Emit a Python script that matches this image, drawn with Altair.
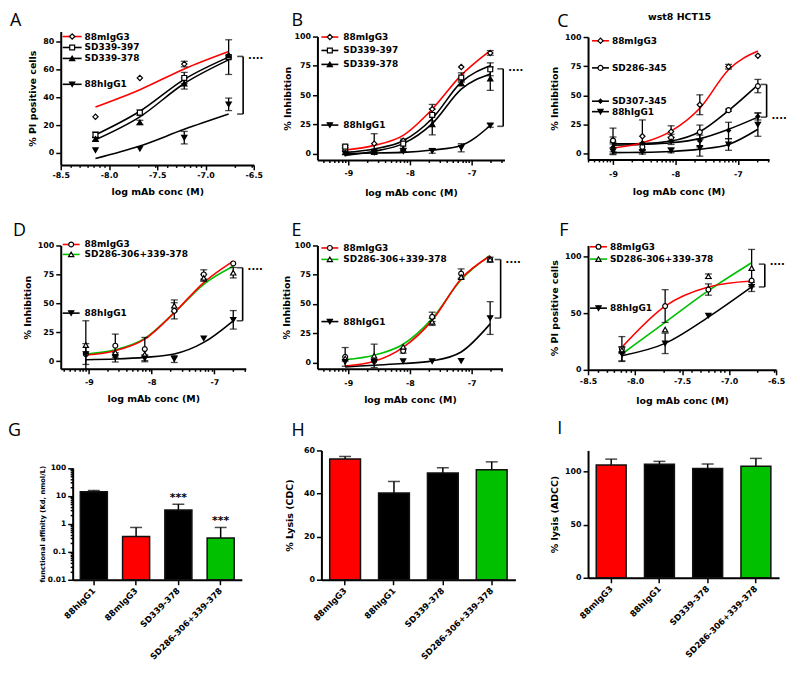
import math
import altair as alt
import pandas as pd

FONT = "DejaVu Sans"
LETTER_FONT = "Open Sans"
RED = "#ff0000"
GREEN = "#00c000"
BLACK = "#000000"
WHITE = "#ffffff"

M3 = "88mIgG3"
H1 = "88hIgG1"
S397 = "SD339-397"
S378 = "SD339-378"
S345 = "SD286-345"
S307 = "SD307-345"
SDC = "SD286-306+339-378"

# ---------------- Panel A (% PI positive cells) ----------------
A_X = [-8.14, -7.68, -7.22, -6.76]
A_M3 = [26, 54, 64, 70]
A_M3_ERR = [0, 0, 2, 0]
A_M3_FIT = [33, 45.5, 60.5, 73]
A_397 = [13, 29, 54, 69]
A_397_ERR = [2, 2, 4, 12.5]
A_397_FIT = [13, 30, 53, 69]
A_378 = [10, 22, 50, 70]
A_378_ERR = [1.5, 1.5, 4, 0]
A_378_FIT = [9.5, 26, 50, 67]
A_H1 = [2, 3, 11, 35]
A_H1_ERR = [0, 0, 4.5, 4.5]
A_H1_FIT = [-4, 5, 17, 28]
A_BRACKET = [-6.61, 28, 69.5, 67.5]

# ---------------- Panel B (% Inhibition) ----------------
B_X = [-9.05, -8.58, -8.11, -7.64, -7.17, -6.70]
B_M3 = [3, 8.5, 11, 38, 74, 86]
B_M3_ERR = [0, 8.5, 0, 4, 0, 2]
B_M3_FIT = [3, 7, 15.6, 38, 67, 88]
B_397 = [6, 1.5, 8.5, 33, 65, 72]
B_397_ERR = [1, 0, 4, 5, 4, 5.5]
B_397_FIT = [1, 4, 11, 30, 61, 75]
B_378 = [1, 1.5, 4, 25, 60, 64]
B_378_ERR = [0, 0, 0, 9, 2, 10]
B_378_FIT = [-1.5, 2, 8.5, 25.6, 55, 68]
B_H1 = [0, 1, 2, 2.3, 5, 24]
B_H1_ERR = [0, 0, 0, 2, 3.5, 1.5]
B_H1_FIT = [0, 0.5, 1, 3, 7, 24]
B_BRACKET = [-6.49, 23.3, 72.4, 70.4]

# ---------------- Panel C (wst8 HCT15) ----------------
C_X = [-9.0, -8.53, -8.07, -7.61, -7.15, -6.68]
C_M3 = [11, 15, 19, 42, 74.6, 84]
C_M3_ERR = [11, 14, 5, 8.5, 2, 0]
C_M3_FIT = [5, 9.4, 19.4, 39, 72, 88]
C_345 = [11.4, 6, 13.7, 18.6, 37.4, 58]
C_345_ERR = [3, 3, 3, 6, 1, 5.7]
C_345_FIT = [8.6, 8.7, 10.9, 18.9, 37, 59]
C_307 = [5.7, 9.4, 11, 11, 20, 32]
C_307_ERR = [4, 0, 3, 5, 7, 3]
C_307_FIT = [7.4, 8, 9.4, 13, 21, 31.4]
C_H1 = [2.3, 1.7, 2.9, 5, 8, 25]
C_H1_ERR = [3, 2, 2, 7, 5, 10]
C_H1_FIT = [1, 1.2, 2, 4, 8, 21]
C_BRACKET = [-6.54, 31.4, 59.4, 30]

# ---------------- Panel D ----------------
D_X = [-9.05, -8.58, -8.11, -7.64, -7.17, -6.70]
D_M3 = [6.3, 13.5, 10.6, 43.6, 75, 84.5]
D_M3_ERR = [0, 10, 10, 7, 4, 0]
D_M3_FIT = [5.4, 9.2, 19.2, 42, 68, 86.5]
D_SDC = [14, 7.7, 6, 48, 72, 76.5]
D_SDC_ERR = [21, 0, 0, 5, 3, 4.5]
D_SDC_FIT = [6.3, 10, 19.8, 42, 66.5, 82]
D_H1 = [6.3, 3.4, 2.6, 2, 19.8, 35.8]
D_H1_ERR = [9, 4, 3, 3, 0, 8]
D_H1_FIT = [1.4, 2, 3.4, 6.3, 16.3, 35]
D_BRACKET = [-6.55, 35, 80.8, 78.5]

# ---------------- Panel E ----------------
E_X = [-9.05, -8.58, -8.11, -7.64, -7.17, -6.70]
E_M3 = [4.8, 1.4, 10, 39, 76, 88]
E_M3_ERR = [8, 0, 2, 4, 4, 2]
E_M3_FIT = [-3, 1, 13, 36, 71.6, 91]
E_SDC = [3.4, 5.7, 13.4, 34.7, 73, 88]
E_SDC_ERR = [0, 10, 0, 3, 0, 0]
E_SDC_FIT = [2.5, 6.2, 15.6, 37.5, 70.7, 91.5]
E_H1 = [0.6, 0.6, 1.1, 1.1, 1.4, 38]
E_H1_ERR = [0, 0, 0, 0, 0, 14]
E_H1_FIT = [-3.7, -2.3, -0.9, 1.4, 9, 33]
E_BRACKET = [-6.53, 38, 88, 85]

# ---------------- Panel F (% PI positive cells) ----------------
F_X = [-8.14, -7.68, -7.22, -6.76]
F_M3 = [18.4, 56.4, 71, 79]
F_M3_ERR = [11, 14.5, 5, 0]
F_M3_FIT = [20, 56.4, 73.3, 78.6]
F_SDC = [17.5, 35.6, 82.8, 90]
F_SDC_ERR = [3, 0, 2, 16.5]
F_SDC_FIT = [14, 42, 70, 94.7]
F_H1 = [14, 23.4, 48, 73.3]
F_H1_ERR = [6, 9, 0, 4]
F_H1_FIT = [12.5, 23.4, 46.6, 73.3]
F_BRACKET = [-6.62, 73.3, 93.5, 92.6]

# ---------------- Bar panels ----------------
G_NAMES = [H1, M3, S378, SDC]
G_VALS = [14, 0.35, 3.1, 0.31]
G_ERR = [1.5, 0.39, 1.9, 0.43]
G_STARS = ["", "", "***", "***"]

H_NAMES = [M3, H1, S378, SDC]
H_VALS = [56, 40.2, 49.5, 51]
H_ERR = [1.2, 5.4, 2.5, 3.7]

I_NAMES = [M3, H1, S378, SDC]
I_VALS = [106.2, 106.9, 103, 105]
I_ERR = [5.6, 2.8, 4.2, 7.5]

BAR_COLOR = {M3: RED, H1: BLACK, S378: BLACK, SDC: GREEN}

# ---------------- helpers ----------------
ONE = pd.DataFrame({"k": [0]})
INT_TEST = "abs(datum.value - round(datum.value)) < 1e-6"
HALF_TEST = "abs(datum.value * 2 - round(datum.value * 2)) < 1e-6"
LINE_ORDER = {BLACK: 0, GREEN: 1, RED: 2}


def log_ticks(lo, hi, extra=()):
    vals = set()
    for d in range(math.floor(lo) - 1, math.ceil(hi) + 1):
        for k in range(1, 10):
            v = round(d + math.log10(k), 4)
            if lo - 1e-6 <= v <= hi + 1e-6:
                vals.add(v)
    for v in extra:
        if lo - 1e-6 <= v <= hi + 1e-6:
            vals.add(v)
    return sorted(vals)


def letter_layer(letter, dx, dy):
    return alt.Chart(ONE).mark_text(
        text=letter, align="left", baseline="top", font=LETTER_FONT,
        fontSize=18, color=BLACK
    ).encode(x=alt.value(dx), y=alt.value(dy))


def ser(name, xs, ys, errs, fit, shape, fill, line, size=28):
    return dict(name=name, x=xs, y=ys, err=errs, fit=fit, shape=shape,
                fill=fill, line=line, size=size)


def line_panel(letter, letter_xy, width, height, xdom, ydom, half, yvals,
               ytitle, ytp, xlp, xtp, series, legend, legend_x, bracket,
               title=None):
    test = HALF_TEST if half else INT_TEST
    fmt = ".1f" if half else "d"
    extra = [-8.5, -8.0, -7.5, -7.0, -6.5] if half else []
    xvals = log_ticks(xdom[0], xdom[1], extra)
    xs = alt.Scale(domain=xdom, nice=False, zero=False)
    ys = alt.Scale(domain=ydom, nice=False, zero=False)
    xaxis = alt.Axis(
        values=xvals,
        labelExpr=f"{test} ? replace(format(datum.value, '{fmt}'), '\u2212', '-') : ''",
        tickSize={"condition": {"test": test, "value": 5}, "value": 2.5},
        title="log mAb conc (M)", labelPadding=xlp, titlePadding=xtp)
    yaxis = alt.Axis(values=yvals, title=ytitle, titlePadding=ytp,
                     tickSize=5, labelPadding=2)

    def X(f):
        return alt.X(f, type="quantitative", scale=xs, axis=xaxis)

    def Y(f):
        return alt.Y(f, type="quantitative", scale=ys, axis=yaxis)

    layers = []
    for s in sorted(series, key=lambda s: LINE_ORDER[s["line"]]):
        df = pd.DataFrame({"x": s["x"], "y": s["fit"]})
        layers.append(alt.Chart(df).mark_line(
            interpolate="monotone", strokeWidth=1.6, color=s["line"]
        ).encode(x=X("x"), y=Y("y")))

    rows = []
    for s in series:
        for x, y, e in zip(s["x"], s["y"], s["err"]):
            if e > 0:
                rows.append({"x": x, "lo": y - e, "hi": y + e})
    if rows:
        edf = pd.DataFrame(rows)
        layers.append(alt.Chart(edf).mark_rule(strokeWidth=1.3, color=BLACK)
                      .encode(x=X("x"), y=Y("lo"), y2=alt.Y2("hi")))
        for f in ("lo", "hi"):
            layers.append(alt.Chart(edf).mark_tick(
                orient="horizontal", size=7, thickness=1.3, color=BLACK
            ).encode(x=X("x"), y=Y(f)))

    for s in series:
        df = pd.DataFrame({"x": s["x"], "y": s["y"]})
        layers.append(alt.Chart(df).mark_point(
            shape=s["shape"], filled=True, fill=s["fill"], stroke=BLACK,
            strokeWidth=1.2, size=s["size"], opacity=1
        ).encode(x=X("x"), y=Y("y")))

    # legend (GraphPad style, inside the plot)
    style = {s["name"]: s for s in series}
    x0, x1, tx = legend_x
    for name, ly in legend:
        s = style[name]
        layers.append(alt.Chart(ONE).mark_rule(strokeWidth=1.6, color=s["line"])
                      .encode(x=alt.value(x0), x2=alt.value(x1), y=alt.value(ly)))
        layers.append(alt.Chart(ONE).mark_point(
            shape=s["shape"], filled=True, fill=s["fill"], stroke=BLACK,
            strokeWidth=1.2, size=s["size"], opacity=1
        ).encode(x=alt.value((x0 + x1) / 2), y=alt.value(ly)))
        layers.append(alt.Chart(ONE).mark_text(
            text=name, align="left", baseline="middle", font=FONT,
            fontWeight="bold", fontSize=9, color=BLACK
        ).encode(x=alt.value(tx), y=alt.value(ly)))

    # significance bracket
    bdf = pd.DataFrame({"bx": [bracket[0]], "lo": [bracket[1]],
                        "hi": [bracket[2]], "sy": [bracket[3]]})
    layers.append(alt.Chart(bdf).mark_rule(strokeWidth=1.6, color=BLACK)
                  .encode(x=X("bx"), y=Y("lo"), y2=alt.Y2("hi")))
    for f in ("lo", "hi"):
        layers.append(alt.Chart(bdf).mark_tick(
            orient="horizontal", size=6, thickness=1.6, xOffset=-3, color=BLACK
        ).encode(x=X("bx"), y=Y(f)))
    layers.append(alt.Chart(bdf).mark_text(
        text="····", align="left", baseline="middle", dx=5, font=FONT,
        fontWeight="bold", fontSize=10, color=BLACK
    ).encode(x=X("bx"), y=Y("sy")))

    layers.append(letter_layer(letter, *letter_xy))
    if title:
        layers.append(alt.Chart(ONE).mark_text(
            text=title[0], align="center", baseline="middle", font=FONT,
            fontWeight="bold", fontSize=9.5, color=BLACK
        ).encode(x=alt.value(title[1]), y=alt.value(title[2])))
    return alt.layer(*layers).properties(width=width, height=height)


def bar_panel(letter, letter_xy, names, vals, errs, base, yscale, yaxis,
              width, height, pin, pout, rmin, rmax, stars=None):
    df = pd.DataFrame({
        "name": names, "val": vals,
        "hi": [v + e for v, e in zip(vals, errs)],
        "base": [base] * len(names),
        "color": [BAR_COLOR[n] for n in names],
    })
    if stars:
        df["star"] = stars
    X = alt.X("name:N", sort=names,
              scale=alt.Scale(paddingInner=pin, paddingOuter=pout,
                              rangeMin=rmin, rangeMax=rmax),
              axis=alt.Axis(title=None, labelAngle=315, labelAlign="right",
                            labelBaseline="middle", tickSize=5,
                            labelFontSize=8.5, labelPadding=4))

    def Y(f):
        return alt.Y(f, type="quantitative", scale=yscale, axis=yaxis)

    layers = [
        alt.Chart(df).mark_rule(strokeWidth=1.5, color=BLACK)
        .encode(x=X, y=Y("val"), y2=alt.Y2("hi")),
        alt.Chart(df).mark_tick(orient="horizontal", size=12, thickness=1.5,
                                color=BLACK).encode(x=X, y=Y("hi")),
        alt.Chart(df).mark_bar(stroke="#111111", strokeWidth=1.5)
        .encode(x=X, y=Y("val"), y2=alt.Y2("base"),
                fill=alt.Fill("color:N", scale=None)),
    ]
    if stars:
        layers.append(alt.Chart(df).mark_text(
            baseline="bottom", dy=-1, font=FONT, fontWeight="bold",
            fontSize=11, color=BLACK
        ).encode(x=X, y=Y("hi"), text="star:N"))
    layers.append(letter_layer(letter, *letter_xy))
    return alt.layer(*layers).properties(width=width, height=height)


# ---------------- build panels ----------------
A = line_panel(
    "A", (-51, -20), 194, 134, [-8.5, -6.5], [-8.6, 87.4], True,
    [0, 20, 40, 60, 80], "% PI positive cells", 5, 2, 7,
    [ser(M3, A_X, A_M3, A_M3_ERR, A_M3_FIT, "diamond", WHITE, RED),
     ser(S397, A_X, A_397, A_397_ERR, A_397_FIT, "square", WHITE, BLACK, 24),
     ser(S378, A_X, A_378, A_378_ERR, A_378_FIT, "triangle-up", BLACK, BLACK),
     ser(H1, A_X, A_H1, A_H1_ERR, A_H1_FIT, "triangle-down", BLACK, BLACK)],
    [(M3, 5), (S397, 16), (S378, 27), (H1, 53)], (2, 21, 24), A_BRACKET)

B = line_panel(
    "B", (-26, -25), 188, 124, [-9.5, -6.47], [-5.4, 100], False,
    [0, 25, 50, 75, 100], "% Inhibition", 1, 5, 10,
    [ser(M3, B_X, B_M3, B_M3_ERR, B_M3_FIT, "diamond", WHITE, RED),
     ser(S397, B_X, B_397, B_397_ERR, B_397_FIT, "square", WHITE, BLACK, 24),
     ser(S378, B_X, B_378, B_378_ERR, B_378_FIT, "triangle-up", BLACK, BLACK),
     ser(H1, B_X, B_H1, B_H1_ERR, B_H1_FIT, "triangle-down", BLACK, BLACK)],
    [(M3, 0.5), (S397, 14), (S378, 28), (H1, 89)], (4, 21, 26), B_BRACKET)

C = line_panel(
    "C", (-31, -24), 182, 123, [-9.4, -6.5], [-4.8, 100], False,
    [0, 25, 50, 75, 100], "% Inhibition", 4.5, 6, 8,
    [ser(M3, C_X, C_M3, C_M3_ERR, C_M3_FIT, "diamond", WHITE, RED),
     ser(S345, C_X, C_345, C_345_ERR, C_345_FIT, "circle", WHITE, BLACK, 24),
     ser(S307, C_X, C_307, C_307_ERR, C_307_FIT, "diamond", BLACK, BLACK, 16),
     ser(H1, C_X, C_H1, C_H1_ERR, C_H1_FIT, "triangle-down", BLACK, BLACK)],
    [(M3, 3.8), (S345, 31), (S307, 64.5), (H1, 75)], (4, 21, 24), C_BRACKET,
    title=("wst8 HCT15", 92, -20))

D = line_panel(
    "D", (-48, -24), 186, 124, [-9.45, -6.5], [-6.5, 100], False,
    [0, 25, 50, 75, 100], "% Inhibition", 4.5, 4.5, 7,
    [ser(M3, D_X, D_M3, D_M3_ERR, D_M3_FIT, "circle", WHITE, RED, 24),
     ser(SDC, D_X, D_SDC, D_SDC_ERR, D_SDC_FIT, "triangle-up", WHITE, GREEN),
     ser(H1, D_X, D_H1, D_H1_ERR, D_H1_FIT, "triangle-down", BLACK, BLACK)],
    [(M3, -1), (SDC, 9), (H1, 68)], (2, 19, 24), D_BRACKET)

E = line_panel(
    "E", (-26, -24), 186, 124, [-9.5, -6.5], [-5.4, 100], False,
    [0, 25, 50, 75, 100], "% Inhibition", 2.5, 5.5, 7,
    [ser(M3, E_X, E_M3, E_M3_ERR, E_M3_FIT, "circle", WHITE, RED, 24),
     ser(SDC, E_X, E_SDC, E_SDC_ERR, E_SDC_FIT, "triangle-up", WHITE, GREEN),
     ser(H1, E_X, E_H1, E_H1_ERR, E_H1_FIT, "triangle-down", BLACK, BLACK)],
    [(M3, 2.5), (SDC, 14), (H1, 76.5)], (4, 21, 26), E_BRACKET)

F = line_panel(
    "F", (-29, -24), 189, 125, [-8.5, -6.5], [0, 110], True,
    [0, 50, 100], "% PI positive cells", 4.5, 3, 9.5,
    [ser(M3, F_X, F_M3, F_M3_ERR, F_M3_FIT, "circle", WHITE, RED, 24),
     ser(SDC, F_X, F_SDC, F_SDC_ERR, F_SDC_FIT, "triangle-up", WHITE, GREEN),
     ser(H1, F_X, F_H1, F_H1_ERR, F_H1_FIT, "triangle-down", BLACK, BLACK)],
    [(M3, 1.3), (SDC, 13.7), (H1, 63)], (2, 19, 22), F_BRACKET)

g_vals = [round(k * 10 ** d, 6) for d in range(-2, 2) for k in range(1, 10)] + [100]
G_TEST = "abs(log(datum.value) / LN10 - round(log(datum.value) / LN10)) < 1e-6"
G = bar_panel(
    "G", (-53, -29), G_NAMES, G_VALS, G_ERR, 0.01,
    alt.Scale(type="log", domain=[0.01, 100], range=[130, 17.5]),
    alt.Axis(values=g_vals,
             labelExpr=f"{G_TEST} ? format(datum.value, '~g') : ''",
             tickSize={"condition": {"test": G_TEST, "value": 5}, "value": 2.5},
             title="functional affinity (Kd, nmol/L)", titleFontSize=6.8,
             labelFontSize=7.5, titlePadding=2, labelPadding=2, offset=-12),
    182, 130, 0.36, 0.18, 12, 182, stars=G_STARS)

H = bar_panel(
    "H", (-26, -29), H_NAMES, H_VALS, H_ERR, 0,
    alt.Scale(domain=[0, 60], nice=False),
    alt.Axis(values=[0, 20, 40, 60], title="% Lysis (CDC)", titlePadding=9,
             tickSize=5, labelPadding=2, offset=-4),
    208, 130, 0.37, 0.17, 4, 199)

I = bar_panel(
    "I", (-31, -31), I_NAMES, I_VALS, I_ERR, 0,
    alt.Scale(domain=[0, 120], nice=False),
    alt.Axis(values=[0, 50, 100], title="% lysis (ADCC)", titlePadding=5,
             tickSize=5, labelPadding=2),
    192, 128, 0.38, 0.17, 0, 192)

chart = alt.concat(
    A, B, C, D, E, F, G, H, I,
    columns=3, spacing={"row": 81, "column": 64}, bounds="flush",
    align="each", center={"row": True, "column": False},
).properties(
    padding={"left": 0, "top": 2, "right": 5, "bottom": 5},
    background="white",
).configure_view(stroke=None).configure_axis(
    grid=False, domainColor=BLACK, domainWidth=2, tickColor=BLACK,
    tickWidth=1.5, labelFont=FONT, labelFontWeight="bold", labelColor=BLACK,
    labelFontSize=8, titleFont=FONT, titleFontWeight="bold",
    titleColor=BLACK, titleFontSize=9.5, labelFlush=False, labelOverlap=False,
)

chart.save("out.html", embed_options={"renderer": "svg", "actions": False})
